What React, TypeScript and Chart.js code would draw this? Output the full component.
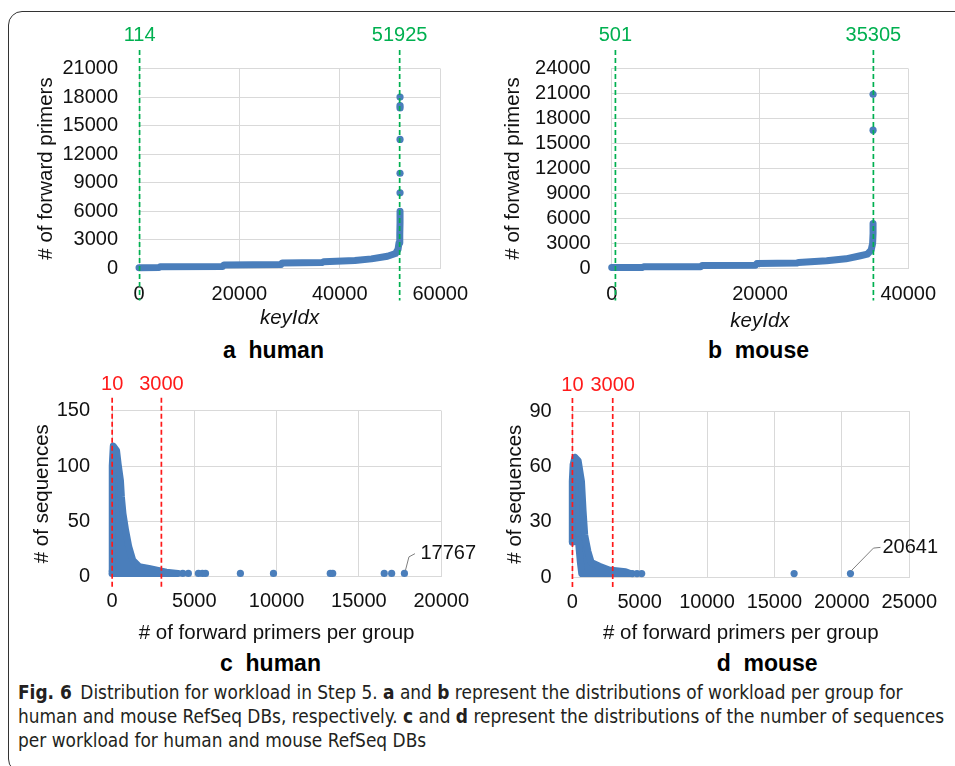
import React, { useEffect, useRef } from "react";
import { Chart, registerables } from "chart.js";

Chart.register(...registerables);

const FONT = '"Liberation Sans", Arial, Helvetica, sans-serif';
const BLUE = "#4a7ebb";
const GRID = "#d9d9d9";
const TEXT = "#111111";
const GREEN = "#00b050";
const RED = "#ff1a1a";

// ---------- Panel a: human, workload per group ----------
const humanKeyIdx = [0, 4000, 4200, 16700, 16900, 28300, 28500, 36500, 36800, 43000, 46300, 49500, 51100, 51600, 51800, 51950, 52000, 52000];
const humanPrimers = [90, 110, 190, 220, 380, 420, 580, 640, 700, 840, 1010, 1290, 1570, 2000, 2700, 3600, 4800, 6000];
const humanPeakKeyIdx = [52000, 52000, 52000, 52000, 52000, 52000];
const humanPeakPrimers = [7950, 10000, 13550, 16850, 17100, 18000];
const humanKeyMarkers = [114, 51925];
const aXTicks = [0, 20000, 40000, 60000];
const aYTicks = [0, 3000, 6000, 9000, 12000, 15000, 18000, 21000];

// ---------- Panel b: mouse, workload per group ----------
const mouseKeyIdx = [0, 4100, 4300, 12000, 12200, 19400, 19600, 25000, 25200, 29000, 31600, 33400, 34500, 35000, 35200, 35260, 35260];
const mousePrimers = [110, 120, 200, 220, 360, 390, 600, 650, 720, 920, 1160, 1500, 1720, 2200, 3000, 4200, 5400];
const mousePeakKeyIdx = [35260, 35260];
const mousePeakPrimers = [16600, 20900];
const mouseKeyMarkers = [501, 35305];
const bXTicks = [0, 20000, 40000];
const bYTicks = [0, 3000, 6000, 9000, 12000, 15000, 18000, 21000, 24000];

// ---------- Panel c: human, sequences per workload ----------
const humanSeqX = [0, 0, 30, 77, 277, 372, 513, 572, 667, 826, 1020, 1257, 1652, 2242, 2731, 3300, 4010, 4010, 0];
const humanSeqY = [5, 53, 100, 118, 114, 102, 87, 72, 57, 42, 27, 15, 9, 7.5, 6, 4, 3, 3, 3];
const humanTailX = [4300, 4640, 5250, 5490, 5680, 7800, 9810, 13260, 13410, 16540, 16990, 17767];
const humanTailY = [3, 3, 3, 3, 3, 3, 3, 3, 3, 3, 3, 3];
const cXTicks = [0, 5000, 10000, 15000, 20000];
const cYTicks = [0, 50, 100, 150];

// ---------- Panel d: mouse, sequences per workload ----------
const mouseSeqX = [0, 0, 60, 196, 436, 680, 800, 920, 1161, 1403, 2010, 2737, 3949, 4300, 4300, 700, 600, 450, 0];
const mouseSeqY = [19, 52, 61, 65, 63, 52, 36, 23, 14, 8, 6, 4, 3, 2, 2, 2, 8, 20, 19];
const mouseTailX = [4450, 4800, 5150, 16460, 20641];
const mouseTailY = [2, 2, 2, 2, 2];
const dXTicks = [0, 5000, 10000, 15000, 20000, 25000];
const dYTicks = [0, 30, 60, 90];

const seqMarkers = [10, 3000];

const pts = (xs: number[], ys: number[]) => xs.map((x, i) => ({ x, y: ys[i] }));

type Spec = {
  L: number; R: number; T: number; B: number;
  yTitleX: number; xTitleY: number; top: number; right: number;
  xTicks: number[]; yTicks: number[];
  xTitle: string; yTitle: string; xItalic?: boolean;
  xPad: number; yPad: number;
  datasets: any[];
  markers: number[]; markerColor: string;
  above: number; below: number; labelAbove: number;
  callout?: { x: number; y: number; text: string; p1: [number, number]; p2: [number, number]; tx: number };
};

const curve = (xs: number[], ys: number[]) => ({
  data: pts(xs, ys), showLine: true, borderColor: BLUE, backgroundColor: BLUE,
  borderWidth: 7, borderCapStyle: "round", borderJoinStyle: "round",
  pointRadius: 0, fill: false, clip: false, tension: 0,
});
const blob = (xs: number[], ys: number[]) => ({
  data: pts(xs, ys), showLine: true, borderColor: BLUE, backgroundColor: BLUE,
  borderWidth: 7, borderCapStyle: "round", borderJoinStyle: "round",
  pointRadius: 0, fill: "shape", clip: false, tension: 0,
});
const dots = (xs: number[], ys: number[]) => ({
  data: pts(xs, ys), showLine: false, pointRadius: 3.6, pointBackgroundColor: BLUE,
  pointBorderWidth: 0, borderColor: BLUE, backgroundColor: BLUE, clip: false,
});

const specs: Spec[] = [
  {
    L: 139, R: 451, T: 68.5, B: 268.5, yTitleX: 46.5, xTitleY: 318, top: 20, right: 482,
    xTicks: aXTicks, yTicks: aYTicks, xTitle: "keyIdx", yTitle: "# of forward primers", xItalic: true,
    xPad: 14, yPad: 21,
    datasets: [curve(humanKeyIdx, humanPrimers), dots(humanPeakKeyIdx, humanPeakPrimers)],
    markers: humanKeyMarkers, markerColor: GREEN, above: 18.5, below: 32, labelAbove: 33.5,
  },
  {
    L: 611.7, R: 916.7, T: 68.5, B: 268.5, yTitleX: 513, xTitleY: 321, top: 20, right: 950,
    xTicks: bXTicks, yTicks: bYTicks, xTitle: "keyIdx", yTitle: "# of forward primers", xItalic: true,
    xPad: 14, yPad: 21,
    datasets: [curve(mouseKeyIdx, mousePrimers), dots(mousePeakKeyIdx, mousePeakPrimers)],
    markers: mouseKeyMarkers, markerColor: GREEN, above: 18.5, below: 32, labelAbove: 33.5,
  },
  {
    L: 112, R: 451, T: 410.7, B: 576.7, yTitleX: 42.5, xTitleY: 633.3, top: 370, right: 482,
    xTicks: cXTicks, yTicks: cYTicks, xTitle: "# of forward primers per group", yTitle: "# of sequences",
    xPad: 13, yPad: 22,
    datasets: [blob(humanSeqX, humanSeqY), dots(humanTailX, humanTailY)],
    markers: seqMarkers, markerColor: RED, above: 13, below: 10, labelAbove: 26,
    callout: { x: 17767, y: 3, text: "17767", p1: [4.5, -16.5], p2: [10.5, -19.7], tx: 16 },
  },
  {
    L: 572.3, R: 916.7, T: 411, B: 577.3, yTitleX: 515.8, xTitleY: 633.3, top: 370, right: 950,
    xTicks: dXTicks, yTicks: dYTicks, xTitle: "# of forward primers per group", yTitle: "# of sequences",
    xPad: 13, yPad: 20.6,
    datasets: [blob(mouseSeqX, mouseSeqY), dots(mouseTailX, mouseTailY)],
    markers: seqMarkers, markerColor: RED, above: 13, below: 10, labelAbove: 26,
    callout: { x: 20641, y: 2, text: "20641", p1: [23, -25.5], p2: [30, -26.2], tx: 32 },
  },
];

function Panel({ s }: { s: Spec }) {
  const ref = useRef<HTMLCanvasElement>(null);
  const half = (20.5 * 1.2) / 2;
  const cx = Math.round(s.yTitleX - half);
  const wy = s.L - cx;
  const cy = s.top;
  const padT = s.T - cy;
  const hx = s.xTitleY + half - s.B;
  const ch = Math.round(s.B - cy + hx);
  const padB = ch - (s.B - cy) - hx;
  const cw = Math.round(s.right - cx);
  const padR = cx + cw - s.R;

  useEffect(() => {
    if (!ref.current) return;
    const annot = {
      id: "annot",
      afterDatasetsDraw(chart: any) {
        const { ctx, chartArea, scales } = chart;
        const x = scales.x, y = scales.y;
        ctx.save();
        for (const m of s.markers) {
          const px = x.getPixelForValue(m);
          ctx.strokeStyle = s.markerColor;
          ctx.lineWidth = 1.7;
          ctx.setLineDash([5, 3]);
          ctx.beginPath();
          ctx.moveTo(px, chartArea.top - s.above);
          ctx.lineTo(px, chartArea.bottom + s.below);
          ctx.stroke();
          ctx.setLineDash([]);
          ctx.fillStyle = s.markerColor;
          ctx.font = `20px ${FONT}`;
          ctx.textAlign = "center";
          ctx.textBaseline = "middle";
          ctx.fillText(String(m), px, chartArea.top - s.labelAbove);
        }
        if (s.callout) {
          const c = s.callout;
          const px = x.getPixelForValue(c.x);
          const py = y.getPixelForValue(c.y);
          ctx.strokeStyle = "#7f7f7f";
          ctx.lineWidth = 1;
          ctx.beginPath();
          ctx.moveTo(px + 1, py - 3);
          ctx.lineTo(px + c.p1[0], py + c.p1[1]);
          ctx.lineTo(px + c.p2[0], py + c.p2[1]);
          ctx.stroke();
          ctx.fillStyle = TEXT;
          ctx.font = `20px ${FONT}`;
          ctx.textAlign = "left";
          ctx.textBaseline = "middle";
          ctx.fillText(c.text, px + c.tx, py + c.p2[1]);
        }
        ctx.restore();
      },
    };
    const axis = (ticks: number[], isX: boolean) => ({
      type: "linear",
      min: ticks[0],
      max: ticks[ticks.length - 1],
      afterBuildTicks: (sc: any) => { sc.ticks = ticks.map((v) => ({ value: v })); },
      afterFit: (sc: any) => { if (isX) sc.height = hx; else sc.width = wy; },
      grid: { color: GRID, drawTicks: false, lineWidth: 1 },
      border: { color: GRID, width: 1 },
      ticks: {
        color: TEXT, font: { size: 20, family: FONT }, padding: isX ? s.xPad : s.yPad,
        maxRotation: 0, autoSkip: false, callback: (v: any) => String(v),
      },
      title: {
        display: true, text: isX ? s.xTitle : s.yTitle, color: TEXT, padding: 0,
        font: { size: 20.5, family: FONT, style: isX && s.xItalic ? "italic" : "normal" },
      },
    });
    const chart = new Chart(ref.current, {
      type: "scatter",
      data: { datasets: s.datasets },
      options: {
        responsive: false,
        animation: false,
        devicePixelRatio: 1,
        layout: { padding: { left: 0, top: padT, right: padR, bottom: padB } },
        plugins: { legend: { display: false }, tooltip: { enabled: false } },
        scales: { x: axis(s.xTicks, true), y: axis(s.yTicks, false) } as any,
      },
      plugins: [annot],
    } as any);
    return () => chart.destroy();
  }, []);

  return (
    <canvas
      ref={ref}
      width={cw}
      height={ch}
      style={{ position: "absolute", left: cx, top: cy, width: cw, height: ch }}
    />
  );
}

const panelTitles = [
  { letter: "a", name: "human", left: 223, baseline: 358.3 },
  { letter: "b", name: "mouse", left: 708, baseline: 358.3 },
  { letter: "c", name: "human", left: 220, baseline: 671 },
  { letter: "d", name: "mouse", left: 716.7, baseline: 671 },
];

const capFont = '"Liberation Sans Narrow", "DejaVu Sans Condensed", "Roboto Condensed", "Liberation Sans", sans-serif';

export default function App() {
  return (
    <div style={{ position: "absolute", left: 0, top: 0, width: 955, height: 766, overflow: "hidden", background: "#fff" }}>
      <div
        style={{
          position: "absolute", left: 8, top: 11, width: 980, height: 762,
          border: "1.5px solid #333", borderRadius: 14, boxSizing: "border-box",
        }}
      />
      {specs.map((s, i) => (
        <Panel key={i} s={s} />
      ))}
      {panelTitles.map((t, i) => (
        <div
          key={i}
          style={{
            position: "absolute", left: t.left, top: t.baseline - 19.5, fontFamily: FONT,
            fontWeight: "bold", fontSize: 23, lineHeight: "23px", whiteSpace: "pre", color: "#000",
          }}
        >
          {t.letter + "  " + t.name}
        </div>
      ))}
      <div
        style={{
          position: "absolute", left: 18, top: 680, fontFamily: capFont, fontStretch: "condensed",
          fontSize: 18.9, lineHeight: "24px", color: "#231f20", whiteSpace: "nowrap",
        }}
      >
        <div>
          <b>Fig. 6</b>{"\u2002"}Distribution for workload in Step 5. <b>a</b> and <b>b</b> represent the distributions of workload per group for
        </div>
        <div>
          human and mouse RefSeq DBs, respectively. <b>c</b> and <b>d</b> represent the distributions of the number of sequences
        </div>
        <div>per workload for human and mouse RefSeq DBs</div>
      </div>
    </div>
  );
}
